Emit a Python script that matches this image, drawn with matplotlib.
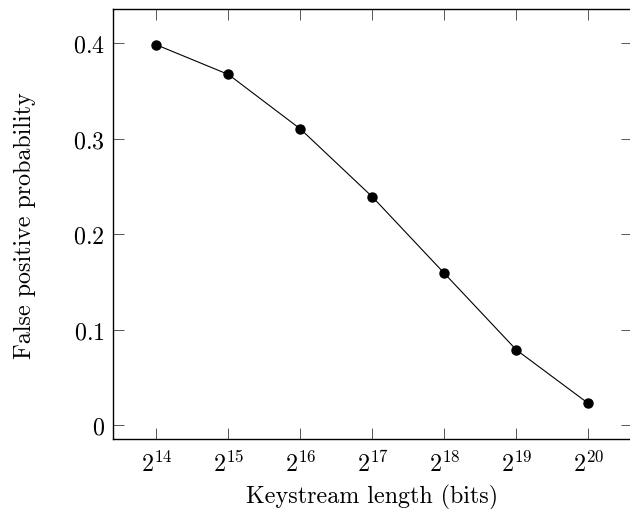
import matplotlib
matplotlib.use("Agg")
import matplotlib.pyplot as plt

exponents = [14, 15, 16, 17, 18, 19, 20]
probabilities = [0.398, 0.367, 0.310, 0.239, 0.159, 0.079, 0.023]
x_tick_labels = [r"$2^{%d}$" % e for e in exponents]
y_ticks = [0, 0.1, 0.2, 0.3, 0.4]
y_tick_labels = [r"$0$", r"$0.1$", r"$0.2$", r"$0.3$", r"$0.4$"]

plt.rcParams["font.family"] = ["cmr10", "DejaVu Serif"]
plt.rcParams["mathtext.fontset"] = "cm"
plt.rcParams["axes.formatter.use_mathtext"] = True

fig = plt.figure(figsize=(6.3, 5.1), dpi=100)
ax = fig.add_axes([0.1798, 0.1367, 0.8226, 0.8437])

ax.plot(exponents, probabilities, color="black", linewidth=0.8,
        marker="o", markersize=6.5, markerfacecolor="black",
        markeredgecolor="black")

rng = max(probabilities) - min(probabilities)
ax.set_xlim(13.4, 20.6)
ax.set_ylim(min(probabilities) - 0.1 * rng, max(probabilities) + 0.1 * rng)

ax.set_xticks(exponents)
ax.set_xticklabels(x_tick_labels, fontsize=17.3)
ax.set_yticks(y_ticks)
ax.set_yticklabels(y_tick_labels, fontsize=17.3)

ax.tick_params(axis="both", direction="in", length=8, width=0.7,
               color="#555555", top=True, right=True, pad=6)
ax.tick_params(axis="x", pad=8)

for s in ax.spines.values():
    s.set_linewidth(1.0)
    s.set_color("black")

ax.set_xlabel("Keystream length (bits)", fontsize=17.3, labelpad=6)
ax.set_ylabel("False positive probability", fontsize=17.3, labelpad=27)

fig.savefig("out.png", dpi=100)
